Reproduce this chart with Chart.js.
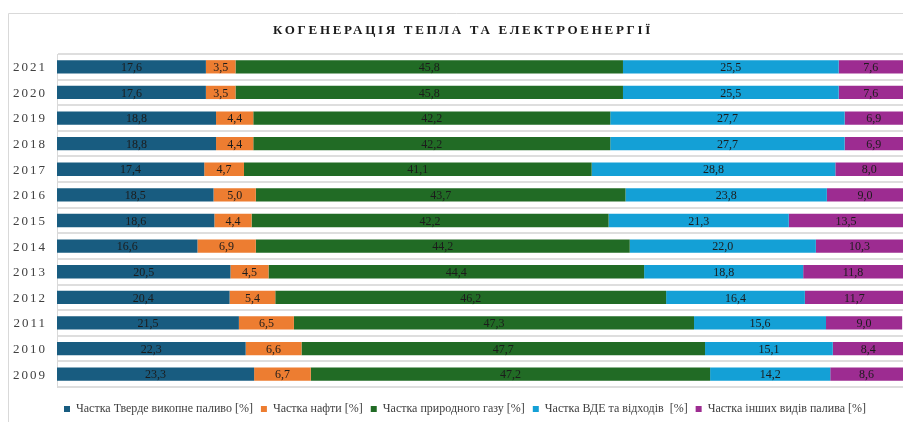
<!DOCTYPE html>
<html>
<head>
<meta charset="utf-8">
<script src="https://cdn.jsdelivr.net/npm/chart.js@4"></script>
<style>
  html, body { margin: 0; padding: 0; background: #ffffff; }
  canvas { display: block; }
</style>
</head>
<body>
<canvas id="grafico" width="903" height="422"></canvas>
<script>
const titulo = "КОГЕНЕРАЦІЯ ТЕПЛА ТА ЕЛЕКТРОЕНЕРГІЇ";

const roky = ["2021", "2020", "2019", "2018", "2017", "2016", "2015", "2014", "2013", "2012", "2011", "2010", "2009"];

const tverde = [17.6, 17.6, 18.8, 18.8, 17.4, 18.5, 18.6, 16.6, 20.5, 20.4, 21.5, 22.3, 23.3];
const nafta = [3.5, 3.5, 4.4, 4.4, 4.7, 5.0, 4.4, 6.9, 4.5, 5.4, 6.5, 6.6, 6.7];
const gaz = [45.8, 45.8, 42.2, 42.2, 41.1, 43.7, 42.2, 44.2, 44.4, 46.2, 47.3, 47.7, 47.2];
const vde = [25.5, 25.5, 27.7, 27.7, 28.8, 23.8, 21.3, 22.0, 18.8, 16.4, 15.6, 15.1, 14.2];
const inshi = [7.6, 7.6, 6.9, 6.9, 8.0, 9.0, 13.5, 10.3, 11.8, 11.7, 9.0, 8.4, 8.6];

const nazvy = [
    "Частка Тверде викопне паливо [%]",
    "Частка нафти [%]",
    "Частка природного газу [%]",
    "Частка ВДЕ та відходів  [%]",
    "Частка інших видів палива [%]",
];
const kolory = ["#185c80", "#ed7d31", "#216b25", "#14a0d6", "#9d2c91"];

const serif = "'Liberation Serif', 'Times New Roman', serif";

// podpysy, roky, zagolovok i ramka
const pidpysy = {
    id: "pidpysy",
    beforeDraw(chart) {
        const ctx = chart.ctx;
        ctx.save();
        ctx.strokeStyle = "#d9d9d9";
        ctx.lineWidth = 1;
        ctx.beginPath();
        ctx.moveTo(8.5, 430);
        ctx.lineTo(8.5, 13.5);
        ctx.lineTo(910, 13.5);
        ctx.stroke();
        ctx.restore();
    },
    afterDatasetsDraw(chart) {
        const ctx = chart.ctx;
        ctx.save();
        ctx.font = "12px " + serif;
        ctx.fillStyle = "#1c1c1c";
        ctx.textAlign = "center";
        ctx.textBaseline = "middle";
        chart.data.datasets.forEach((ds, i) => {
            chart.getDatasetMeta(i).data.forEach((bar, j) => {
                const p = bar.getCenterPoint();
                ctx.fillText(ds.data[j].toFixed(1).replace(".", ","), p.x, p.y + 1);
            });
        });
        ctx.restore();
    },
    afterDraw(chart) {
        const ctx = chart.ctx;
        const y = chart.scales.y;
        ctx.save();
        ctx.letterSpacing = "2px";
        ctx.font = "13px " + serif;
        ctx.fillStyle = "#404040";
        ctx.textAlign = "right";
        ctx.textBaseline = "middle";
        roky.forEach((rik, i) => {
            ctx.fillText(rik, 47, y.getPixelForTick(i) + 1);
        });
        ctx.letterSpacing = "2.7px";
        ctx.font = "bold 13px " + serif;
        ctx.fillStyle = "#1a1a1a";
        ctx.textAlign = "center";
        ctx.fillText(titulo, 463, 31);
        ctx.restore();
    },
};

const dataGrafico = {
    labels: roky,
    datasets: [tverde, nafta, gaz, vde, inshi].map((valores, i) => ({
        label: nazvy[i],
        data: valores,
        backgroundColor: kolory[i],
        borderWidth: 0,
        categoryPercentage: 1,
        barPercentage: 0.52,
    })),
};

const configGrafico = {
    type: "bar",
    data: dataGrafico,
    options: {
        indexAxis: "y",
        responsive: false,
        animation: false,
        layout: {
            padding: { left: 27, top: 54, right: 0, bottom: -3 },
        },
        plugins: {
            legend: {
                position: "bottom",
                title: {
                    display: true,
                    text: "",
                    font: { size: 5 },
                    padding: 1,
                },
                labels: {
                    boxWidth: 6,
                    boxHeight: 6,
                    padding: 8,
                    color: "#404040",
                    font: { size: 12, family: serif },
                },
            },
            title: { display: false },
            tooltip: { enabled: false },
        },
        scales: {
            x: {
                stacked: true,
                min: 0,
                max: 100,
                display: false,
            },
            y: {
                stacked: true,
                ticks: { display: false },
                afterFit(scale) {
                    scale.width = 30;
                },
                grid: {
                    color: "#dedede",
                    lineWidth: 2,
                    drawTicks: false,
                },
                border: { color: "#d9d9d9" },
            },
        },
    },
    plugins: [pidpysy],
};

const chartKogeneratsia = new Chart(document.getElementById("grafico"), configGrafico);
</script>
</body>
</html>
